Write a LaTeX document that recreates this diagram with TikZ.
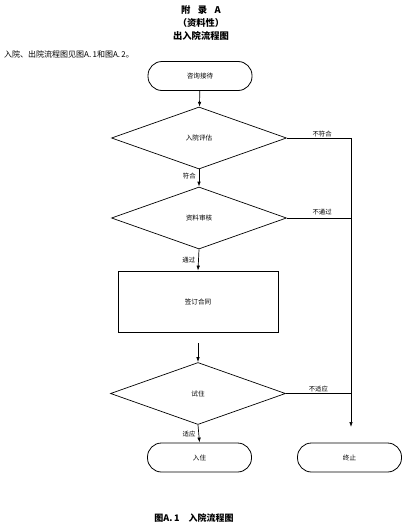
\documentclass[tikz,border=0pt]{standalone}
\usepackage{fontspec}
\newfontfamily\cjk{Noto Sans CJK SC}
\usetikzlibrary{shapes.geometric,arrows.meta}
\begin{document}
\begin{tikzpicture}[x=1pt,y=-1pt,
  every node/.style={font=\cjk},
  term/.style={draw,line width=0.8pt,rounded corners=14pt,minimum width=104pt,minimum height=29pt,inner sep=0pt,font=\cjk\fontsize{6.6}{7}\selectfont},
  dec/.style={draw,line width=0.7pt,diamond,minimum width=175pt,minimum height=62pt,inner sep=0pt,font=\cjk\fontsize{6.6}{7}\selectfont},
  proc/.style={draw,line width=0.7pt,minimum width=160pt,minimum height=61pt,inner sep=0pt,font=\cjk\fontsize{6.6}{7}\selectfont},
  lbl/.style={font=\cjk\fontsize{6.4}{7}\selectfont,inner sep=1pt},
  arr/.style={-{Latex[length=5pt,width=3.5pt]},line width=0.7pt},
  ln/.style={line width=0.6pt}]
\useasboundingbox (0,0) rectangle (406,530);
\node[font=\cjk\bfseries\fontsize{9.3}{10}\selectfont] (t1) at (201,10) {附\hspace{0.8em}录\hspace{0.8em}A};
\node[font=\cjk\bfseries\fontsize{9.3}{10}\selectfont] (t2) at (201,23) {（资料性）};
\node[font=\cjk\bfseries\fontsize{9.3}{10}\selectfont] (t3) at (201,36) {出入院流程图};
\node[anchor=west,font=\cjk\fontsize{8}{9}\selectfont,inner sep=0pt] (intro) at (4,54) {入院、出院流程图见图A.\,1和图A.\,2。};

\node[term] (a) at (200,76) {咨询接待};
\node[dec] (b) at (199,138) {入院评估};
\node[dec] (c) at (199,218) {资料审核};
\node[proc] (d) at (198,301.5) {签订合同};
\node[dec] (e) at (198,393.5) {试住};
\node[term] (f) at (199.5,457.5) {入住};
\node[term] (g) at (349.5,457.5) {终止};

\coordinate (r1) at (351,138);
\coordinate (r2) at (351,218);
\coordinate (r3) at (351,393.5);
\coordinate (rend) at (351,427);
\coordinate (dstart) at (198,343);

\draw[arr] (a) -- (b);
\draw[arr] (b) -- (c) node[lbl,pos=0.4,left,xshift=-2pt] {符合};
\draw[arr] (c.south) -- (d.north) node[lbl,pos=0.5,left,xshift=-2pt] {通过};
\draw[arr] (dstart) -- (e.north);
\draw[arr] (e.south) -- (f.north) node[lbl,pos=0.5,left,xshift=-2pt] {适应};

\draw[ln] (b.east) -- (r1) node[lbl,pos=0.55,above] {不符合};
\draw[ln] (c.east) -- (r2) node[lbl,pos=0.55,above,yshift=2pt] {不通过};
\draw[ln] (e.east) -- (r3) node[lbl,pos=0.5,above] {不适应};
\draw[arr] (r1) -- (rend);

\node[font=\cjk\bfseries\fontsize{9}{10}\selectfont] (cap) at (194,518) {图A.\,1\hspace{1em}入院流程图};
\end{tikzpicture}
\end{document}
